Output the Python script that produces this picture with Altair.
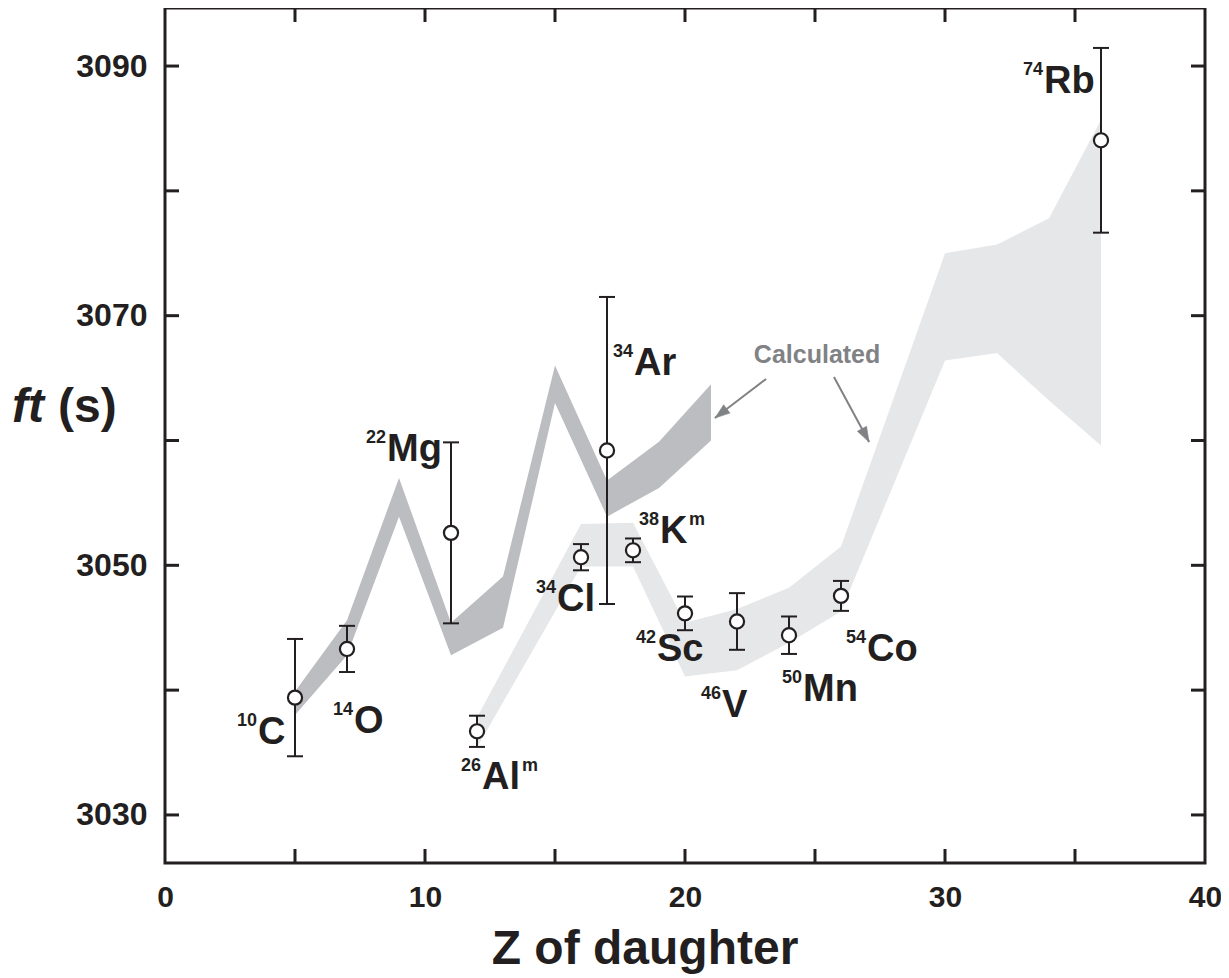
import math
import altair as alt
import pandas as pd

# ---------------- data ----------------
nuclide_mass = ["10", "14", "22", "26", "34", "34", "38", "42", "46", "50", "54", "74"]
nuclide_sym = ["C", "O", "Mg", "Al", "Cl", "Ar", "K", "Sc", "V", "Mn", "Co", "Rb"]
nuclide_iso = ["", "", "", "m", "", "", "m", "", "", "", "", ""]
z_daughter = [5, 7, 11, 12, 16, 17, 18, 20, 22, 24, 26, 36]
ft_value = [3039.4, 3043.3, 3052.6, 3036.7, 3050.65, 3059.2, 3051.2, 3046.15, 3045.5, 3044.4, 3047.55, 3084.05]
ft_error = [4.7, 1.85, 7.25, 1.25, 1.05, 12.3, 0.95, 1.35, 2.27, 1.5, 1.2, 7.4]

calcA_z = [5, 7, 9, 11, 13, 15, 17, 19, 21]
calcA_upper = [3039.9, 3045.6, 3057.0, 3045.4, 3049.1, 3066.0, 3056.8, 3059.9, 3064.5]
calcA_lower = [3038.0, 3042.8, 3053.9, 3042.8, 3045.0, 3063.0, 3053.9, 3056.2, 3060.0]

calcB_z = [12, 16, 18, 20, 22, 24, 26, 30, 32, 34, 36]
calcB_upper = [3037.8, 3053.3, 3053.4, 3045.4, 3046.5, 3048.2, 3051.5, 3075.0, 3075.7, 3077.8, 3085.7]
calcB_lower = [3035.4, 3049.9, 3049.9, 3041.1, 3041.6, 3043.8, 3046.3, 3066.4, 3067.0, 3063.2, 3059.6]

x_tick_values = [5, 10, 15, 20, 25, 30, 35]
x_label_values = [0, 10, 20, 30, 40]
y_tick_values = [3030, 3040, 3050, 3060, 3070, 3080, 3090]
y_label_values = [3030, 3050, 3070, 3090]

callout_text = "Calculated"
callout_z, callout_ft = 25.08, 3066.2
arrow_start_z = [23.12, 25.73]
arrow_start_ft = [3064.93, 3065.09]
arrow_end_z = [21.15, 27.08]
arrow_end_ft = [3061.8, 3059.88]

# ---------------- layout / style ----------------
W, H = 1040, 855
XDOM = [0, 40]
YDOM = [3026.15, 3094.65]
PX_X = W / (XDOM[1] - XDOM[0])
PX_Y = H / (YDOM[1] - YDOM[0])
INK = "#231f20"
GREY = "#808285"
FONT = "Liberation Sans"

# label offsets in pixels (symbol left edge / baseline relative to the point)
label_dx = [-37, 7, -64, 5, -24, 27, 27, -28, -15, 14, 26, -57]
label_dy = [46, 84, -72, 58, 54, -75, -7, 48, 96, 66, 65, -47]
iso_dx = [0, 0, 0, 40, 0, 0, 29, 0, 0, 0, 0, 0]

xs = alt.Scale(domain=XDOM, nice=False, zero=False)
ys = alt.Scale(domain=YDOM, nice=False, zero=False)

pts = pd.DataFrame({
    "z": z_daughter, "ft": ft_value, "err": ft_error,
    "mass": nuclide_mass, "sym": nuclide_sym, "iso": nuclide_iso,
})
pts["lo"] = pts["ft"] - pts["err"]
pts["hi"] = pts["ft"] + pts["err"]
pts["sx"] = pts["z"] + pd.Series(label_dx) / PX_X
pts["sy"] = pts["ft"] - pd.Series(label_dy) / PX_Y
pts["mx"] = pts["z"] + (pd.Series(label_dx) - 1) / PX_X
pts["my"] = pts["ft"] - (pd.Series(label_dy) - 18) / PX_Y
pts["ix"] = pts["z"] + (pd.Series(label_dx) + pd.Series(iso_dx)) / PX_X

bandA = pd.DataFrame({"z": calcA_z, "u": calcA_upper, "l": calcA_lower})
bandB = pd.DataFrame({"z": calcB_z, "u": calcB_upper, "l": calcB_lower})

arr = pd.DataFrame({"z1": arrow_start_z, "f1": arrow_start_ft,
                    "z2": arrow_end_z, "f2": arrow_end_ft})
arr["ang"] = [
    (math.degrees(math.atan2((r.z2 - r.z1) * PX_X, (r.f2 - r.f1) * PX_Y)) + 360) % 360
    for r in arr.itertuples()
]

X = alt.X("z:Q", scale=xs,
          axis=alt.Axis(values=x_label_values, ticks=False, tickSize=0, domain=False,
                        grid=False, title=None, labelFontSize=30, labelFont=FONT,
                        labelFontWeight="bold", labelColor=INK, labelPadding=19,
                        labelFlush=False, format="d"))
Y = alt.Y("ft:Q", scale=ys,
          axis=alt.Axis(values=y_label_values, ticks=False, tickSize=0, domain=False,
                        grid=False, title=None, labelFontSize=32, labelFont=FONT,
                        labelFontWeight="bold", labelColor=INK, labelPadding=18,
                        format="d"))

base_pts = alt.Chart(pts)

layerB = alt.Chart(bandB).mark_area(color="#e6e7e8", opacity=1).encode(
    x=alt.X("z:Q", scale=xs), y=alt.Y("u:Q", scale=ys), y2="l:Q")
layerA = alt.Chart(bandA).mark_area(color="#bcbdc0", opacity=1).encode(
    x=alt.X("z:Q", scale=xs), y=alt.Y("u:Q", scale=ys), y2="l:Q")

ebar = base_pts.mark_rule(color=INK, strokeWidth=2).encode(
    x=alt.X("z:Q", scale=xs), y=alt.Y("lo:Q", scale=ys), y2="hi:Q")
cap_lo = base_pts.mark_tick(orient="horizontal", size=16, thickness=2, color=INK, opacity=1).encode(
    x=alt.X("z:Q", scale=xs), y=alt.Y("lo:Q", scale=ys))
cap_hi = base_pts.mark_tick(orient="horizontal", size=16, thickness=2, color=INK, opacity=1).encode(
    x=alt.X("z:Q", scale=xs), y=alt.Y("hi:Q", scale=ys))
circles = base_pts.mark_point(shape="circle", size=200, fill="white", stroke=INK,
                              strokeWidth=2.2, opacity=1, filled=False, fillOpacity=1).encode(x=X, y=Y)

sym_txt = base_pts.mark_text(font=FONT, fontSize=38, fontWeight="bold", color=INK,
                             align="left", baseline="alphabetic").encode(
    x=alt.X("sx:Q", scale=xs), y=alt.Y("sy:Q", scale=ys), text="sym:N")
mass_txt = base_pts.mark_text(font=FONT, fontSize=18, fontWeight="bold", color=INK,
                              align="right", baseline="alphabetic").encode(
    x=alt.X("mx:Q", scale=xs), y=alt.Y("my:Q", scale=ys), text="mass:N")
iso_txt = base_pts.transform_filter(alt.datum.iso != "").mark_text(
    font=FONT, fontSize=18, fontWeight="bold", color=INK,
    align="left", baseline="alphabetic").encode(
    x=alt.X("ix:Q", scale=xs), y=alt.Y("my:Q", scale=ys), text="iso:N")

arrow_line = alt.Chart(arr).mark_rule(color=GREY, strokeWidth=2).encode(
    x=alt.X("z1:Q", scale=xs), y=alt.Y("f1:Q", scale=ys), x2="z2:Q", y2="f2:Q")
arrow_head = alt.Chart(arr).mark_point(
    shape="M0,0L0.7,2L-0.7,2Z", size=225, filled=True, fill=GREY, stroke=GREY,
    strokeWidth=0.5, opacity=1).encode(
    x=alt.X("z2:Q", scale=xs), y=alt.Y("f2:Q", scale=ys),
    angle=alt.Angle("ang:Q", scale=None))
callout = alt.Chart(pd.DataFrame({"z": [callout_z], "ft": [callout_ft], "t": [callout_text]})).mark_text(
    font=FONT, fontSize=25, fontWeight="bold", color=GREY, align="center",
    baseline="alphabetic").encode(
    x=alt.X("z:Q", scale=xs), y=alt.Y("ft:Q", scale=ys), text="t:N")

# inward frame ticks
xt = pd.DataFrame({"t": x_tick_values})
yt = pd.DataFrame({"t": y_tick_values})
TL = 14
xt_bot = alt.Chart(xt).mark_rule(color=INK, strokeWidth=3).encode(
    x=alt.X("t:Q", scale=xs), y=alt.value(H), y2=alt.value(H - TL))
xt_top = alt.Chart(xt).mark_rule(color=INK, strokeWidth=3).encode(
    x=alt.X("t:Q", scale=xs), y=alt.value(0), y2=alt.value(TL))
yt_left = alt.Chart(yt).mark_rule(color=INK, strokeWidth=3).encode(
    y=alt.Y("t:Q", scale=ys), x=alt.value(0), x2=alt.value(TL))
yt_right = alt.Chart(yt).mark_rule(color=INK, strokeWidth=3).encode(
    y=alt.Y("t:Q", scale=ys), x=alt.value(W), x2=alt.value(W - TL))

# titles
one = pd.DataFrame({"a": [0]})
xtitle = alt.Chart(one).mark_text(text="Z of daughter", font=FONT, fontSize=48,
                                  fontWeight="bold", color=INK, align="center",
                                  baseline="alphabetic").encode(
    x=alt.value(480), y=alt.value(956))
ytitle_ft = alt.Chart(one).mark_text(text="ft", font=FONT, fontSize=48, fontWeight="bold",
                                     fontStyle="italic", color=INK, align="left",
                                     baseline="alphabetic").encode(
    x=alt.value(-153), y=alt.value(414))
ytitle_s = alt.Chart(one).mark_text(text="(s)", font=FONT, fontSize=48, fontWeight="bold",
                                    color=INK, align="left", baseline="alphabetic").encode(
    x=alt.value(-107), y=alt.value(414))

axes_layer = base_pts.mark_point(opacity=0).encode(x=X, y=Y)

chart = alt.layer(
    axes_layer, layerB, layerA, ebar, cap_lo, cap_hi, circles,
    sym_txt, mass_txt, iso_txt, arrow_line, arrow_head, callout,
    xt_bot, xt_top, yt_left, yt_right, xtitle, ytitle_ft, ytitle_s,
).properties(
    width=W, height=H,
    autosize=alt.AutoSizeParams(type="none"),
    padding={"left": 157, "top": 0, "right": 16, "bottom": 112},
    background="white",
).configure_view(
    stroke=INK, strokeWidth=3
)

chart.save("out.html", embed_options={"renderer": "svg", "actions": False})
